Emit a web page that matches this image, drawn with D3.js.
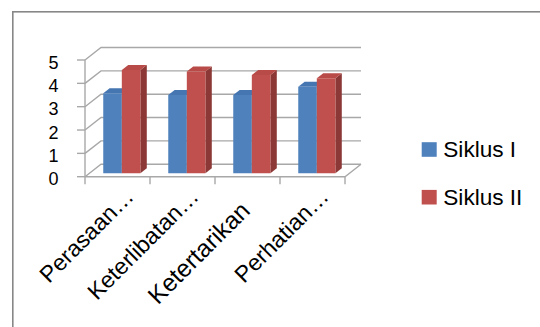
<!DOCTYPE html>
<html lang="en">
<head>
    <meta charset="UTF-8">
    <title>Siklus chart</title>
    <script src="https://d3js.org/d3.v7.min.js"></script>
</head>
<style>
    *{
        margin:0;
        padding:0;
    }
    body {
        background: #fff;
    }
    text {
        font-family: "Liberation Sans", Arial, sans-serif;
        fill: #000;
    }
</style>
<body>
<script>
    // data
    var categories = ["Perasaan\u2026", "Keterlibatan\u2026", "Ketertarikan", "Perhatian\u2026"];
    var siklus1 = [3.43, 3.36, 3.36, 3.71];
    var siklus2 = [4.43, 4.36, 4.21, 4.07];
    var seriesNames = ["Siklus I", "Siklus II"];
    var yTicks = [0, 1, 2, 3, 4, 5];

    var width = 540,
        height = 327;

    // depth offset of the back wall and bar position in depth
    var dx = 16, dy = -12.5;
    var t1 = 0.27, t2 = 0.67;

    var colors = [
        {front: "#4f81bd", top: "#4676b2", side: "#385d8a"},
        {front: "#c0504d", top: "#b84a47", side: "#8c3836"}
    ];

    var svg = d3.select("body")
                .append("svg")
                .attr("width", width)
                .attr("height", height)

    svg.append("rect")
        .attr("x", 12.8)
        .attr("y", 11.8)
        .attr("width", 600)
        .attr("height", 400)
        .style("fill", "#fff")
        .style("stroke", "#878787")
        .style("stroke-width", 1.6)

    var x = d3.scaleBand()
              .domain(categories)
              .range([85, 345])

    var inner = d3.scaleBand()
                  .domain([0, 1])
                  .range([0, x.bandwidth()])
                  .paddingInner(0)
                  .paddingOuter(0.75)

    var y = d3.scaleLinear()
              .domain([0, 5])
              .range([176.7, 60])

    function pt(px, py, t) {
        return [px + t * dx, py + t * dy];
    }

    var grid = svg.append("g")
                  .style("stroke", "#a8a8a8")
                  .style("stroke-width", 1.4)
                  .style("fill", "none")

    var x0 = x.range()[0], x1 = x.range()[1];

    // back wall + side wall lines
    yTicks.forEach(function(v) {
        var a = pt(x0, y(v), 0), b = pt(x0, y(v), 1), c = pt(x1, y(v), 1);
        grid.append("polyline")
            .attr("points", [a, b, c].map(function(p){return p.join(",")}).join(" "))
    })

    // floor front and right edges
    grid.append("polyline")
        .attr("points", [pt(x0, y(0), 0), pt(x1, y(0), 0), pt(x1, y(0), 1)].map(function(p){return p.join(",")}).join(" "))

    // value axis
    grid.append("line")
        .attr("x1", x0).attr("x2", x0)
        .attr("y1", y(0)).attr("y2", y(5))

    yTicks.forEach(function(v) {
        grid.append("line")
            .attr("x1", x0 - 8).attr("x2", x0)
            .attr("y1", y(v)).attr("y2", y(v))
        svg.append("text")
            .attr("x", 58.5)
            .attr("y", y(v) + 8.5)
            .attr("text-anchor", "end")
            .style("font-size", "18px")
            .text(v)
    })

    // category ticks
    var bounds = categories.map(function(c){return x(c)}).concat([x1]);
    bounds.forEach(function(bx) {
        grid.append("line")
            .attr("x1", bx).attr("x2", bx)
            .attr("y1", y(0)).attr("y2", y(0) + 7.5)
    })

    // bars
    var series = [siklus1, siklus2];
    var bars = svg.append("g")
    categories.forEach(function(cat, i) {
        series.forEach(function(vals, s) {
            var bx0 = x(cat) + inner(s),
                bx1 = bx0 + inner.bandwidth(),
                yb = y(0), yt = y(vals[i]);
            var col = colors[s];
            var side = [pt(bx1, yb, t1), pt(bx1, yt, t1), pt(bx1, yt, t2), pt(bx1, yb, t2)];
            var top = [pt(bx0, yt, t1), pt(bx1, yt, t1), pt(bx1, yt, t2), pt(bx0, yt, t2)];
            var front = [pt(bx0, yb, t1), pt(bx1, yb, t1), pt(bx1, yt, t1), pt(bx0, yt, t1)];
            bars.append("polygon")
                .attr("points", side.map(function(p){return p.join(",")}).join(" "))
                .style("fill", col.side)
            bars.append("polygon")
                .attr("points", top.map(function(p){return p.join(",")}).join(" "))
                .style("fill", col.top)
            bars.append("polygon")
                .attr("points", front.map(function(p){return p.join(",")}).join(" "))
                .style("fill", col.front)
        })
    })

    // category labels
    categories.forEach(function(cat) {
        var cx = x(cat) + x.bandwidth() / 2;
        var cut = cat.slice(-1) === "\u2026";
        var ax = cut ? cx + 17.5 : cx + 4,
            ay = cut ? 198 : 212;
        svg.append("text")
            .attr("transform", "translate(" + ax + "," + ay + ") rotate(-45)")
            .attr("text-anchor", "end")
            .style("font-size", cut ? "23px" : "24.5px")
            .text(cat)
    })

    // legend
    var legend = svg.append("g")
    seriesNames.forEach(function(name, s) {
        var ly = 149.5 + s * 47.7;
        legend.append("rect")
            .attr("x", 421.7)
            .attr("y", ly - 7.3)
            .attr("width", 15)
            .attr("height", 14.6)
            .style("fill", colors[s].front)
        legend.append("text")
            .attr("x", 443.3)
            .attr("y", ly + 7.5)
            .style("font-size", "22.6px")
            .text(name)
    })
</script>
</body>
</html>
